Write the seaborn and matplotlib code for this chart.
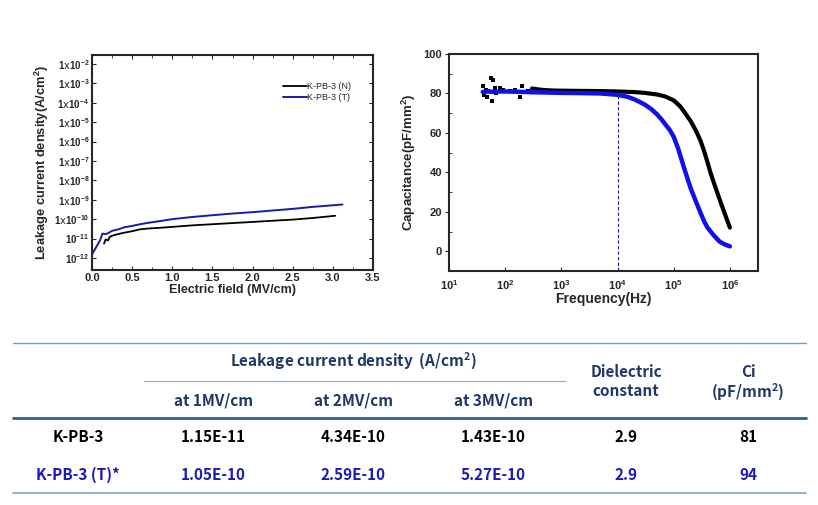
import numpy as np
import pandas as pd
import matplotlib
matplotlib.use("Agg")
import matplotlib.pyplot as plt
from matplotlib.lines import Line2D
from matplotlib.ticker import FixedLocator
import seaborn as sns

# ---------------- data ----------------
# Leakage current density vs electric field
field_N = [0.15, 0.17, 0.2, 0.22, 0.25, 0.3, 0.35, 0.4, 0.5, 0.6, 0.7, 0.85,
           1.0, 1.25, 1.5, 1.75, 2.0, 2.25, 2.5, 2.75, 3.03]
leak_N = [5.5e-12, 9e-12, 8e-12, 1.2e-11, 1.4e-11, 1.6e-11, 1.8e-11, 2.0e-11,
          2.4e-11, 3.0e-11, 3.3e-11, 3.6e-11, 4.0e-11, 4.8e-11, 5.5e-11,
          6.3e-11, 7.2e-11, 8.3e-11, 9.5e-11, 1.15e-10, 1.5e-10]
field_T = [0.0, 0.05, 0.1, 0.13, 0.17, 0.2, 0.25, 0.3, 0.35, 0.4, 0.5, 0.6,
           0.7, 0.85, 1.0, 1.25, 1.5, 1.75, 2.0, 2.25, 2.5, 2.75, 3.0, 3.12]
leak_T = [1.5e-12, 3.5e-12, 8e-12, 1.8e-11, 1.7e-11, 1.9e-11, 2.5e-11, 2.8e-11,
          3.2e-11, 3.8e-11, 4.5e-11, 5.5e-11, 6.5e-11, 8e-11, 1.0e-10, 1.3e-10,
          1.6e-10, 1.95e-10, 2.3e-10, 2.8e-10, 3.4e-10, 4.3e-10, 5.2e-10, 5.7e-10]
leak_labels = ["K-PB-3 (N)", "K-PB-3 (T)"]
leak_ticks = [1e-12, 1e-11, 1e-10, 1e-9, 1e-8, 1e-7, 1e-6, 1e-5, 1e-4, 1e-3, 1e-2]
leak_ticklabels = [r"$10^{-12}$", r"$10^{-11}$", r"$1\mathrm{x}10^{-10}$", r"$1\mathrm{x}10^{-9}$",
                   r"$1\mathrm{x}10^{-8}$", r"$1\mathrm{x}10^{-7}$", r"$1\mathrm{x}10^{-6}$",
                   r"$1\mathrm{x}10^{-5}$", r"$1\mathrm{x}10^{-4}$", r"$1\mathrm{x}10^{-3}$",
                   r"$1\mathrm{x}10^{-2}$"]

# Capacitance vs frequency
freq_N_noise = [40, 42, 45, 48, 50, 55, 58, 60, 65, 70, 80, 90, 120, 150, 180, 200, 250]
cap_N_noise = [84, 79, 82, 78, 81, 88, 76, 87, 83, 80, 83, 82, 81, 82, 78, 84, 81]
freq_N = [300, 400, 500, 700, 1000, 2000, 5000, 1e4, 2e4, 3e4, 5e4, 7e4, 1e5,
          1.3e5, 1.6e5, 2e5, 2.5e5, 3e5, 3.5e5, 4e5, 4.5e5, 5e5, 6e5, 7e5, 8e5,
          9e5, 1e6]
cap_N = [82.5, 82, 81.7, 81.5, 81.4, 81.3, 81.2, 81.0, 80.7, 80.3, 79.5, 78.5,
         76.5, 73.5, 70, 66, 61, 56, 50.5, 45, 40, 36, 29.5, 24, 19.5, 15.5, 12]
freq_T = [40, 50, 60, 80, 100, 150, 200, 300, 500, 1000, 2000, 5000, 1e4, 1.5e4,
          2e4, 3e4, 4e4, 5e4, 6e4, 7e4, 8.5e4, 1e5, 1.2e5, 1.5e5, 1.75e5, 2e5,
          2.5e5, 3e5, 3.5e5, 4e5, 5e5, 6.5e5, 8e5, 1e6]
cap_T = [80.8, 81, 80.8, 81, 81, 80.9, 80.8, 80.6, 80.5, 80.3, 80.2, 80, 79.3,
         78.3, 77, 74.5, 72, 69.5, 67, 64.5, 61.5, 58, 52, 43, 37, 32, 25, 19.5,
         15, 12, 8.5, 5, 3.5, 2.5]
marker_freq = 1e4
freq_ticks = [1e1, 1e2, 1e3, 1e4, 1e5, 1e6]
freq_ticklabels = [r"$10^{1}$", r"$10^{2}$", r"$10^{3}$", r"$10^{4}$", r"$10^{5}$", r"$10^{6}$"]

# Table
tbl_samples = ["K-PB-3", "K-PB-3 (T)*"]
tbl_1mv = ["1.15E-11", "1.05E-10"]
tbl_2mv = ["4.34E-10", "2.59E-10"]
tbl_3mv = ["1.43E-10", "5.27E-10"]
tbl_k = ["2.9", "2.9"]
tbl_ci = ["81", "94"]

# ---------------- style ----------------
sns.set_theme(style="ticks")
plt.rcParams["font.family"] = ["Liberation Sans", "DejaVu Sans"]
plt.rcParams["mathtext.default"] = "regular"

fig = plt.figure(figsize=(8.18, 5.05), dpi=100)
W, H = 818, 505

def ax_rect(x0, y0, x1, y1):
    return [x0 / W, 1 - y1 / H, (x1 - x0) / W, (y1 - y0) / H]

BLUE_L = "#1a1aa8"
BLUE_R = "#1010e8"

# ---------------- left chart ----------------
ax1 = fig.add_axes(ax_rect(92, 55, 373, 270))
dfN = pd.DataFrame({"field": field_N, "leak": leak_N})
dfT = pd.DataFrame({"field": field_T, "leak": leak_T})
sns.lineplot(data=dfN, x="field", y="leak", ax=ax1, color="black", lw=1.3, label=leak_labels[0])
sns.lineplot(data=dfT, x="field", y="leak", ax=ax1, color=BLUE_L, lw=1.4, label=leak_labels[1])
ax1.set_yscale("log")
ax1.set_xlim(0, 3.5)
ax1.set_ylim(2.4e-13, 2.9e-2)
ax1.set_yticks(leak_ticks)
ax1.set_yticklabels(leak_ticklabels)
ax1.yaxis.set_minor_locator(FixedLocator([]))
ax1.set_xticks(np.arange(0, 3.51, 0.5))
ax1.set_xticklabels([f"{v:.1f}" for v in np.arange(0, 3.51, 0.5)])
ax1.xaxis.set_minor_locator(FixedLocator(np.arange(0.25, 3.5, 0.5)))
ax1.tick_params(which="both", direction="in", top=True, right=True)
ax1.tick_params(which="major", length=3, width=0.8, labelsize=7, pad=2)
ax1.tick_params(which="minor", length=2, width=0.6)
ax1.tick_params(axis="x", labelsize=8)
for lab in ax1.get_xticklabels() + ax1.get_yticklabels():
    lab.set_fontweight("bold")
for s in ax1.spines.values():
    s.set_linewidth(1.5)
ax1.set_xlabel("Electric field (MV/cm)", fontsize=9, fontweight="bold", labelpad=1)
ax1.set_ylabel(r"Leakage current density(A/cm$^2$)", fontsize=9.3, fontweight="bold", labelpad=2)
leg = ax1.legend(loc="upper right", frameon=False, fontsize=6.5, handlelength=2.6,
                 handletextpad=0.0, borderaxespad=0.2, bbox_to_anchor=(0.94, 0.9),
                 labelspacing=0.25)

# ---------------- right chart ----------------
ax2 = fig.add_axes(ax_rect(449, 54, 758, 271))
dfNn = pd.DataFrame({"f": freq_N_noise, "c": cap_N_noise})
dfN2 = pd.DataFrame({"f": freq_N, "c": cap_N})
dfT2 = pd.DataFrame({"f": freq_T, "c": cap_T})
sns.scatterplot(data=dfNn, x="f", y="c", ax=ax2, color="black", marker="s", s=9, linewidth=0)
sns.lineplot(data=dfN2, x="f", y="c", ax=ax2, color="black", lw=3.0)
sns.lineplot(data=dfT2, x="f", y="c", ax=ax2, color=BLUE_R, lw=3.2)
ax2.set_xscale("log")
ax2.set_xlim(10, 10 ** 6.5)
ax2.set_ylim(-10, 100)
ymark = np.interp(np.log10(marker_freq), np.log10(freq_T), cap_T)
ax2.axvline(marker_freq, ymin=0, ymax=(ymark + 10) / 110, color="#1a1a9a",
            lw=0.8, ls=(0, (3, 2)))
ax2.set_xticks(freq_ticks)
ax2.set_xticklabels(freq_ticklabels)
ax2.xaxis.set_minor_locator(FixedLocator([]))
ax2.set_yticks([0, 20, 40, 60, 80, 100])
ax2.yaxis.set_minor_locator(FixedLocator([10, 30, 50, 70, 90]))
ax2.tick_params(which="major", direction="out", length=3, width=0.8, labelsize=8, pad=2)
ax2.tick_params(which="minor", direction="in", length=2, width=0.6)
ax2.tick_params(axis="x", direction="in", labelsize=8, pad=5)
for lab in ax2.get_yticklabels() + ax2.get_xticklabels():
    lab.set_fontweight("bold")
for s in ax2.spines.values():
    s.set_linewidth(1.5)
ax2.set_xlabel("Frequency(Hz)", fontsize=10, fontweight="bold", labelpad=0)
ax2.set_ylabel(r"Capacitance(pF/mm$^2$)", fontsize=9.5, fontweight="bold", labelpad=4)

# ---------------- table ----------------
TF = ["Noto Sans CJK KR", "DejaVu Sans"]
NAVY = "#1f3866"
ROW2 = "#1a1ab4"

def fx(x):
    return x / W

def fy(y):
    return 1 - y / H

def hline(x0, x1, y, color, lw):
    fig.add_artist(Line2D([fx(x0), fx(x1)], [fy(y), fy(y)], color=color, lw=lw,
                          transform=fig.transFigure))

hline(13, 806, 343, "#6f9fc8", 1.0)
hline(144, 565, 381, "#8fb3d3", 0.9)
hline(13, 806, 418, "#2f5f8a", 2.0)
hline(13, 806, 493, "#7aa5c9", 1.2)

def ttext(x, y, s, color, size=10.5, weight="bold"):
    fig.text(fx(x), fy(y), s, ha="center", va="center", color=color,
             fontsize=size, fontweight=weight, family=TF)

HW = "bold"
HS = 11
ttext(353, 361, r"Leakage current density  (A/cm$^2$)", NAVY, HS, HW)
ttext(213, 400, "at 1MV/cm", NAVY, HS, HW)
ttext(353, 400, "at 2MV/cm", NAVY, HS, HW)
ttext(493, 400, "at 3MV/cm", NAVY, HS, HW)
ttext(626, 372, "Dielectric", NAVY, HS, HW)
ttext(626, 391, "constant", NAVY, HS, HW)
ttext(748, 372, "Ci", NAVY, HS, HW)
ttext(748, 392, r"(pF/mm$^2$)", NAVY, HS, HW)

row_y = [437, 475]
row_colors = ["black", ROW2]
col_x = [78, 213, 353, 493, 626, 748]
for i in range(2):
    vals = [tbl_samples[i], tbl_1mv[i], tbl_2mv[i], tbl_3mv[i], tbl_k[i], tbl_ci[i]]
    for x, v in zip(col_x, vals):
        ttext(x, row_y[i], v, row_colors[i], 11, "bold")

fig.savefig("out.png", dpi=100)
